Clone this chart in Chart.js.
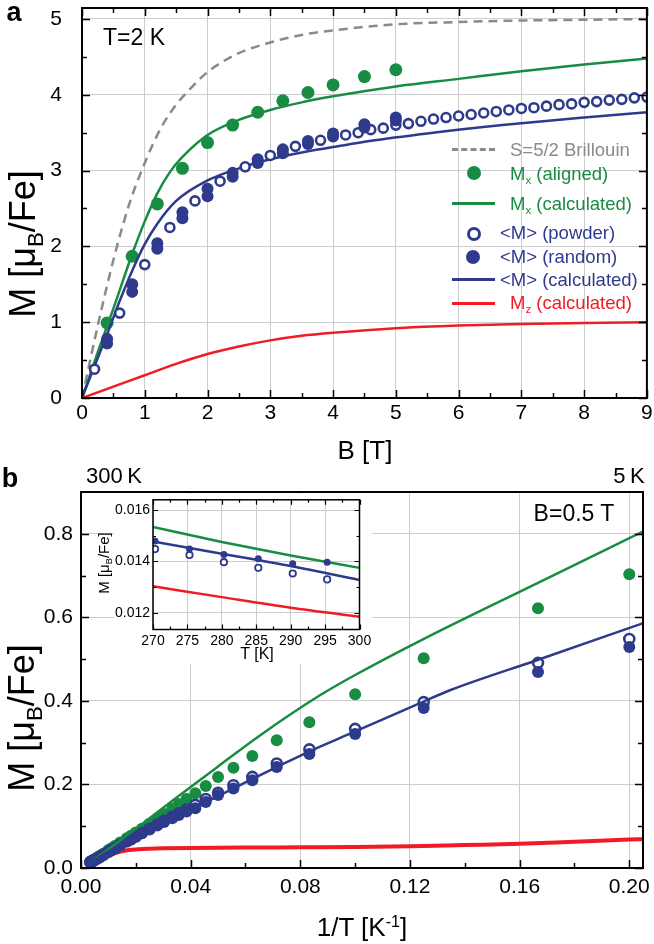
<!DOCTYPE html>
<html>
<head>
<meta charset="utf-8">
<title>Magnetisation M(B) and M(1/T)</title>
<script src="https://cdn.jsdelivr.net/npm/chart.js@4.4.1/dist/chart.umd.min.js"></script>
<style>
  body { margin: 0; background: #fff; }
  #wrap { position: relative; width: 654px; height: 944px; overflow: hidden;
          font-family: "Liberation Sans", Arial, sans-serif; color: #000; }
  .pane { position: absolute; }
  .t { position: absolute; white-space: nowrap; line-height: 1;
       transform: translate(-50%, -50%); }
  .tl { position: absolute; white-space: nowrap; line-height: 1; transform: translateY(-50%); }
  .rot { transform: translate(-50%, -50%) rotate(-90deg); }
  sub { font-size: 62%; vertical-align: -0.35em; line-height: 0; }
  sup { font-size: 62%; vertical-align: 0.55em; line-height: 0; }
  .sym { position: absolute; }
</style>
</head>
<body>
<div id="wrap">
  <div class="pane" style="left:0;top:0;width:654px;height:470px"><canvas id="chartA" width="654" height="470"></canvas></div>
  <div class="pane" style="left:0;top:470px;width:654px;height:474px"><canvas id="chartB" width="654" height="474"></canvas></div>
  <div class="pane" style="left:114px;top:494px;width:258px;height:170px"><canvas id="chartInset" width="258" height="170"></canvas></div>

  <!-- panel a labels -->
  <div class="t" style="left:14px;top:12px;font-size:27px;font-weight:bold">a</div>
  <div class="t" style="left:134px;top:37px;font-size:23px">T=2 K</div>
  <div class="t" style="left:365px;top:450px;font-size:26px">B [T]</div>
  <div class="t rot" style="left:23px;top:244px;font-size:36px">M [μ<sub>B</sub>/Fe]</div>

  <!-- panel a legend -->
  <div class="sym" style="left:452px;top:148px;width:43px;height:0;border-top:3px dashed #8a8a8a"></div>
  <div class="tl" style="left:510px;top:150px;font-size:18.5px;color:#8a8a8a">S=5/2 Brillouin</div>
  <div class="sym" style="left:467px;top:166px;width:14px;height:14px;border-radius:50%;background:#178c42"></div>
  <div class="tl" style="left:510px;top:174px;font-size:18.5px;color:#178c42">M<sub>x</sub> (aligned)</div>
  <div class="sym" style="left:452px;top:202px;width:43px;height:3px;background:#178c42"></div>
  <div class="tl" style="left:510px;top:204px;font-size:18.5px;color:#178c42">M<sub>x</sub> (calculated)</div>
  <div class="sym" style="left:467px;top:227px;width:8px;height:8px;border-radius:50%;border:3px solid #2e3a8c;background:#fff"></div>
  <div class="tl" style="left:500px;top:233px;font-size:18.5px;color:#2e3a8c">&lt;M&gt; (powder)</div>
  <div class="sym" style="left:466px;top:250px;width:14px;height:14px;border-radius:50%;background:#2e3a8c"></div>
  <div class="tl" style="left:500px;top:257px;font-size:18.5px;color:#2e3a8c">&lt;M&gt; (random)</div>
  <div class="sym" style="left:452px;top:278px;width:43px;height:3px;background:#2e3a8c"></div>
  <div class="tl" style="left:500px;top:280px;font-size:18.5px;color:#2e3a8c">&lt;M&gt; (calculated)</div>
  <div class="sym" style="left:452px;top:302px;width:43px;height:3px;background:#ee1d25"></div>
  <div class="tl" style="left:510px;top:303px;font-size:18.5px;color:#ee1d25">M<sub>z</sub> (calculated)</div>

  <!-- panel b labels -->
  <div class="t" style="left:10px;top:478px;font-size:27px;font-weight:bold">b</div>
  <div class="t" style="left:114px;top:476px;font-size:22px">300&#8201;K</div>
  <div class="t" style="left:629px;top:476px;font-size:22px">5&#8201;K</div>
  <div class="t" style="left:574px;top:513px;font-size:23px">B=0.5 T</div>
  <div class="t" style="left:362px;top:927px;font-size:26px">1/T [K<sup>-1</sup>]</div>
  <div class="t rot" style="left:22px;top:718px;font-size:36px">M [μ<sub>B</sub>/Fe]</div>
  <div class="t rot" style="left:103px;top:563px;font-size:15px">M [μ<sub>B</sub>/Fe]</div>
  <div class="t" style="left:257px;top:654px;font-size:16px">T [K]</div>
</div>

<script>
/* ------------------------------------------------------------
   Data
------------------------------------------------------------ */

// panel a : M(B) at T = 2 K
var aTicksX  = [0, 1, 2, 3, 4, 5, 6, 7, 8, 9];
var aMinorX  = [0.5, 1.5, 2.5, 3.5, 4.5, 5.5, 6.5, 7.5, 8.5];
var aTicksY  = [0, 1, 2, 3, 4, 5];
var aMinorY  = [0.5, 1.5, 2.5, 3.5, 4.5];

var brillB   = [0, 0.25, 0.5, 0.75, 1.0, 1.25, 1.5, 1.75, 2.0, 2.5, 3.0, 3.5, 4.0, 5.0, 6.0, 7.0, 8.0, 9.0];
var brillM   = [0, 0.95, 1.82, 2.55, 3.1, 3.55, 3.87, 4.1, 4.3, 4.55, 4.69, 4.79, 4.85, 4.93, 4.96, 4.98, 4.99, 5.0];

var mxCalcB  = [0, 0.25, 0.5, 0.8, 1.0, 1.2, 1.4, 1.6, 2.0, 2.5, 3.0, 3.5, 4.0, 5.0, 6.0, 7.0, 8.0, 9.0];
var mxCalcM  = [0, 0.6, 1.18, 1.9, 2.33, 2.7, 2.98, 3.18, 3.47, 3.67, 3.8, 3.9, 3.98, 4.11, 4.21, 4.31, 4.4, 4.48];

var avCalcB  = [0, 0.2, 0.4, 0.6, 0.8, 1.0, 1.2, 1.5, 2.0, 2.5, 3.0, 3.5, 4.0, 4.58, 5.5, 6.7, 8.0, 9.0];
var avCalcM  = [0, 0.42, 0.84, 1.28, 1.68, 2.03, 2.3, 2.6, 2.87, 3.03, 3.15, 3.24, 3.31, 3.39, 3.49, 3.6, 3.7, 3.77];

var mzCalcB  = [0, 0.5, 1, 1.5, 2, 2.5, 3, 3.5, 4, 5, 6, 7, 8, 9];
var mzCalcM  = [0, 0.15, 0.3, 0.45, 0.58, 0.68, 0.76, 0.82, 0.86, 0.92, 0.955, 0.975, 0.99, 1.0];

var alignB   = [0.4, 0.8, 1.2, 1.6, 2.0, 2.4, 2.8, 3.2, 3.6, 4.0, 4.5, 5.0];
var alignM   = [0.99, 1.87, 2.56, 3.03, 3.37, 3.6, 3.77, 3.92, 4.03, 4.13, 4.24, 4.33];

var randomB  = [0.4, 0.8, 1.2, 1.6, 2.0, 2.4, 2.8, 3.2, 3.6, 4.0, 4.5, 5.0];
var randomHi = [0.78, 1.5, 2.04, 2.45, 2.76, 2.97, 3.15, 3.28, 3.39, 3.49, 3.61, 3.7];
var randomLo = [0.72, 1.4, 1.97, 2.37, 2.66, 2.92, 3.1, 3.23, 3.35, 3.45, 3.57, 3.66];

var powderB  = [0.2, 0.6, 1.0, 1.4, 1.8, 2.2, 2.6, 3.0, 3.4, 3.8, 4.2, 4.4, 4.6, 4.8, 5.0, 5.2, 5.4, 5.6, 5.8,
                6.0, 6.2, 6.4, 6.6, 6.8, 7.0, 7.2, 7.4, 7.6, 7.8, 8.0, 8.2, 8.4, 8.6, 8.8, 9.0];
var powderM  = [0.38, 1.12, 1.76, 2.25, 2.6, 2.86, 3.05, 3.2, 3.32, 3.4, 3.47, 3.5, 3.54, 3.56, 3.6, 3.62, 3.65, 3.68, 3.7,
                3.72, 3.74, 3.76, 3.78, 3.8, 3.82, 3.83, 3.85, 3.87, 3.88, 3.9, 3.91, 3.93, 3.94, 3.96, 3.97];

// panel b : M(1/T) at B = 0.5 T
var bTicksX  = [0, 0.04, 0.08, 0.12, 0.16, 0.20];
var bMinorX  = [0.02, 0.06, 0.10, 0.14, 0.18];
var bTicksY  = [0, 0.2, 0.4, 0.6, 0.8];
var bMinorY  = [0.1, 0.3, 0.5, 0.7];

var invT     = [0.2, 0.1667, 0.125, 0.1, 0.0833, 0.0714, 0.0625, 0.0556, 0.05, 0.0455, 0.0417, 0.0385,
                0.0357, 0.0333, 0.0303, 0.0278, 0.025, 0.0222, 0.02, 0.0182, 0.0167, 0.0143, 0.0125, 0.0111,
                0.01, 0.0083, 0.0071, 0.0063, 0.0056, 0.005, 0.0045, 0.0042, 0.0038, 0.0036, 0.0034];
var bAligned = [0.703, 0.622, 0.502, 0.416, 0.349, 0.306, 0.268, 0.24, 0.218, 0.196, 0.179, 0.165,
                0.153, 0.142, 0.129, 0.118, 0.106, 0.094, 0.085, 0.077, 0.071, 0.061, 0.053, 0.047,
                0.043, 0.035, 0.030, 0.0265, 0.0236, 0.021, 0.019, 0.0178, 0.0162, 0.0153, 0.0145];
var bPowder  = [0.548, 0.491, 0.397, 0.333, 0.284, 0.25, 0.218, 0.198, 0.18, 0.165, 0.151, 0.140,
                0.131, 0.123, 0.113, 0.104, 0.094, 0.084, 0.076, 0.069, 0.064, 0.055, 0.048, 0.043,
                0.039, 0.032, 0.0275, 0.0245, 0.0218, 0.0196, 0.0177, 0.0166, 0.0152, 0.0144, 0.0136];
var bRandom  = [0.529, 0.469, 0.383, 0.321, 0.273, 0.242, 0.21, 0.19, 0.175, 0.158, 0.143, 0.135,
                0.127, 0.119, 0.110, 0.102, 0.092, 0.083, 0.075, 0.069, 0.064, 0.055, 0.048, 0.043,
                0.039, 0.032, 0.0278, 0.0248, 0.0221, 0.0199, 0.018, 0.0169, 0.0155, 0.0147, 0.0139];

var bMxCalcX = [0.0033, 0.01, 0.02, 0.03, 0.04, 0.05, 0.0654, 0.0873, 0.1, 0.1249, 0.1665, 0.2051];
var bMxCalcY = [0.0138, 0.045, 0.094, 0.144, 0.194, 0.243, 0.318, 0.414, 0.462, 0.548, 0.682, 0.806];
var bAvCalcX = [0.0033, 0.01, 0.0205, 0.03, 0.041, 0.05, 0.06, 0.0715, 0.0836, 0.0994, 0.1245, 0.1348, 0.1665, 0.2051];
var bAvCalcY = [0.0133, 0.039, 0.077, 0.108, 0.143, 0.172, 0.205, 0.242, 0.28, 0.325, 0.397, 0.426, 0.498, 0.586];
var bMzCalcX = [0.0033, 0.005, 0.0075, 0.01, 0.0125, 0.015, 0.0175, 0.02, 0.025, 0.03, 0.04, 0.06, 0.08, 0.1, 0.12, 0.14, 0.16, 0.18, 0.2, 0.205];
var bMzCalcY = [0.0119, 0.017, 0.025, 0.031, 0.036, 0.040, 0.043, 0.0445, 0.046, 0.047, 0.048, 0.049, 0.0495, 0.05, 0.052, 0.055, 0.058, 0.063, 0.068, 0.069];

// inset : 270 - 300 K
var iTicksX  = [270, 275, 280, 285, 290, 295, 300];
var iMinorX  = [272.5, 277.5, 282.5, 287.5, 292.5, 297.5];
var iTicksY  = [0.012, 0.014, 0.016];
var iMinorY  = [0.013, 0.015];
var iT       = [270.3, 275.3, 280.3, 285.3, 290.3, 295.3];
var iRandom  = [0.0148, 0.01448, 0.01427, 0.0141, 0.01391, 0.01397];
var iPowder  = [0.01448, 0.01425, 0.01397, 0.01375, 0.01353, 0.0133];
var iCalcT   = [270, 280, 290, 300];
var iMxCalc  = [0.01534, 0.01476, 0.01423, 0.01375];
var iAvCalc  = [0.01478, 0.0143, 0.01382, 0.01328];
var iMzCalc  = [0.01303, 0.01261, 0.0122, 0.01185];


/* ------------------------------------------------------------
   Helpers
------------------------------------------------------------ */
var FONT   = '"Liberation Sans", Arial, sans-serif';
var GREEN  = '#178c42';
var BLUE   = '#2e3a8c';
var RED    = '#ee1d25';
var GREY   = '#8a8a8a';
var GRID   = '#cdcdcd';

function pts(xs, ys) {
  return xs.map(function (x, i) { return { x: x, y: ys[i] }; });
}

function line(data, color, width, order, dash) {
  return {
    data: data, showLine: true, borderColor: color, borderWidth: width,
    borderDash: dash || [], pointRadius: 0, cubicInterpolationMode: 'monotone',
    fill: false, order: order
  };
}

function dots(data, color, radius, order, hollow, bw) {
  return {
    data: data, showLine: false, pointStyle: 'circle', pointRadius: radius,
    pointBackgroundColor: hollow ? '#ffffff' : color,
    pointBorderColor: color, pointBorderWidth: hollow ? (bw || 2.5) : 0,
    order: order
  };
}

function axis(min, max, ticks, fmt, size, pad, fit, isX) {
  return {
    type: 'linear', min: min, max: max,
    afterBuildTicks: function (s) { s.ticks = ticks.map(function (v) { return { value: v }; }); },
    afterFit: function (s) {
      if (isX) s.height = fit; else s.width = fit;
      // the plot area is placed by layout.padding only
      s.paddingTop = 0; s.paddingBottom = 0; s.paddingLeft = 0; s.paddingRight = 0;
    },
    grid: { color: GRID, lineWidth: 1, drawTicks: false },
    border: { display: false },
    ticks: {
      color: '#000', padding: pad, autoSkip: false, maxRotation: 0,
      font: { size: size, family: FONT },
      callback: function (v) { return fmt(v); }
    }
  };
}

// Box round the plot area + inward major/minor ticks
function framePlugin(o) {
  return {
    id: 'frame',
    beforeDraw: function (chart) {
      if (!o.whiteBg) return;
      var c = chart.ctx;
      c.save(); c.fillStyle = '#fff';
      c.fillRect(0, 0, chart.width, chart.height);
      c.restore();
    },
    afterDraw: function (chart) {
      var c = chart.ctx, a = chart.chartArea;
      var xs = chart.scales.x, ys = chart.scales.y;
      c.save();
      c.strokeStyle = '#000';
      c.lineWidth = o.tickWidth;
      c.beginPath();
      function xt(vals, len) {
        vals.forEach(function (v) {
          var p = Math.round(xs.getPixelForValue(v)) + 0.5;
          if (o.bottom) { c.moveTo(p, a.bottom); c.lineTo(p, a.bottom - len); }
          if (o.top)    { c.moveTo(p, a.top);    c.lineTo(p, a.top + len); }
        });
      }
      function yt(vals, len) {
        vals.forEach(function (v) {
          var p = Math.round(ys.getPixelForValue(v)) + 0.5;
          if (o.left)  { c.moveTo(a.left, p);  c.lineTo(a.left + len, p); }
          if (o.right) { c.moveTo(a.right, p); c.lineTo(a.right - len, p); }
        });
      }
      xt(o.xMajor, o.major); xt(o.xMinor, o.minor);
      yt(o.yMajor, o.major); yt(o.yMinor, o.minor);
      c.stroke();
      c.lineWidth = o.boxWidth;
      c.strokeRect(a.left, a.top, a.right - a.left, a.bottom - a.top);
      c.restore();
    }
  };
}

function baseOptions(pad, scales) {
  return {
    responsive: false,
    animation: false,
    devicePixelRatio: 1,
    layout: { padding: pad },
    plugins: { legend: { display: false }, tooltip: { enabled: false } },
    scales: scales
  };
}

function int0(v) { return String(Math.round(v)); }


/* ------------------------------------------------------------
   Panel a
------------------------------------------------------------ */
new Chart(document.getElementById('chartA'), {
  type: 'scatter',
  data: {
    datasets: [
      line(pts(mzCalcB, mzCalcM), RED, 2.5, 1),
      dots(pts(randomB, randomHi), BLUE, 6, 2),
      dots(pts(randomB, randomLo), BLUE, 6, 2),
      dots(pts(powderB, powderM), BLUE, 4.5, 3, true, 2.6),
      line(pts(avCalcB, avCalcM), BLUE, 2.5, 4),
      dots(pts(alignB, alignM), GREEN, 6.5, 5),
      line(pts(mxCalcB, mxCalcM), GREEN, 2.5, 6),
      line(pts(brillB, brillM), GREY, 2.5, 7, [9, 6])
    ]
  },
  options: baseOptions({ left: 0, right: 6, top: 8, bottom: 0 }, {
    x: axis(0, 9, aTicksX, int0, 21, 3, 72, true),
    y: axis(0, 5.145, aTicksY, int0, 21, 20, 82, false)
  }),
  plugins: [framePlugin({
    xMajor: aTicksX, xMinor: aMinorX, yMajor: aTicksY, yMinor: aMinorY,
    top: true, bottom: true, left: true, right: true,
    major: 8, minor: 5, tickWidth: 1.5, boxWidth: 2
  })]
});


/* ------------------------------------------------------------
   Panel b
------------------------------------------------------------ */
new Chart(document.getElementById('chartB'), {
  type: 'scatter',
  data: {
    datasets: [
      line(pts(bAvCalcX, bAvCalcY), BLUE, 2.5, 1),
      line(pts(bMxCalcX, bMxCalcY), GREEN, 2.5, 2),
      dots(pts(invT, bRandom), BLUE, 6, 3),
      dots(pts(invT, bPowder), BLUE, 5, 4, true, 2.6),
      line(pts(bMzCalcX, bMzCalcY), RED, 4, 5),
      dots(pts(invT, bAligned), GREEN, 6, 6)
    ]
  },
  options: baseOptions({ left: 0, right: 11, top: 22, bottom: 0 }, {
    x: axis(0, 0.205, bTicksX, function (v) { return v.toFixed(2); }, 21, 7, 76, true),
    y: axis(0, 0.9, bTicksY, function (v) { return v.toFixed(1); }, 21, 8, 81, false)
  }),
  plugins: [framePlugin({
    xMajor: bTicksX, xMinor: bMinorX, yMajor: bTicksY, yMinor: bMinorY,
    top: false, bottom: true, left: true, right: true,
    major: 8, minor: 5, tickWidth: 1.5, boxWidth: 2
  })]
});


/* ------------------------------------------------------------
   Inset of panel b  (canvas sits at 114,494 in the page)
------------------------------------------------------------ */
new Chart(document.getElementById('chartInset'), {
  type: 'scatter',
  data: {
    datasets: [
      dots(pts(iT, iRandom), BLUE, 3.5, 1),
      dots(pts(iT, iPowder), BLUE, 3.2, 2, true, 1.8),
      line(pts(iCalcT, iAvCalc), BLUE, 2.5, 3),
      line(pts(iCalcT, iMxCalc), GREEN, 2.5, 4),
      line(pts(iCalcT, iMzCalc), RED, 2.5, 5)
    ]
  },
  options: baseOptions({ left: 0, right: 12.5, top: 2, bottom: 0 }, {
    x: axis(270, 300, iTicksX, int0, 14, 3, 34.5, true),
    y: axis(0.01135, 0.0164, iTicksY, function (v) { return v.toFixed(3); }, 14, 3, 39, false)
  }),
  plugins: [framePlugin({
    xMajor: iTicksX, xMinor: iMinorX, yMajor: iTicksY, yMinor: iMinorY,
    top: true, bottom: true, left: true, right: true,
    major: 5, minor: 3, tickWidth: 1.2, boxWidth: 1.5, whiteBg: true
  })]
});
</script>
</body>
</html>
